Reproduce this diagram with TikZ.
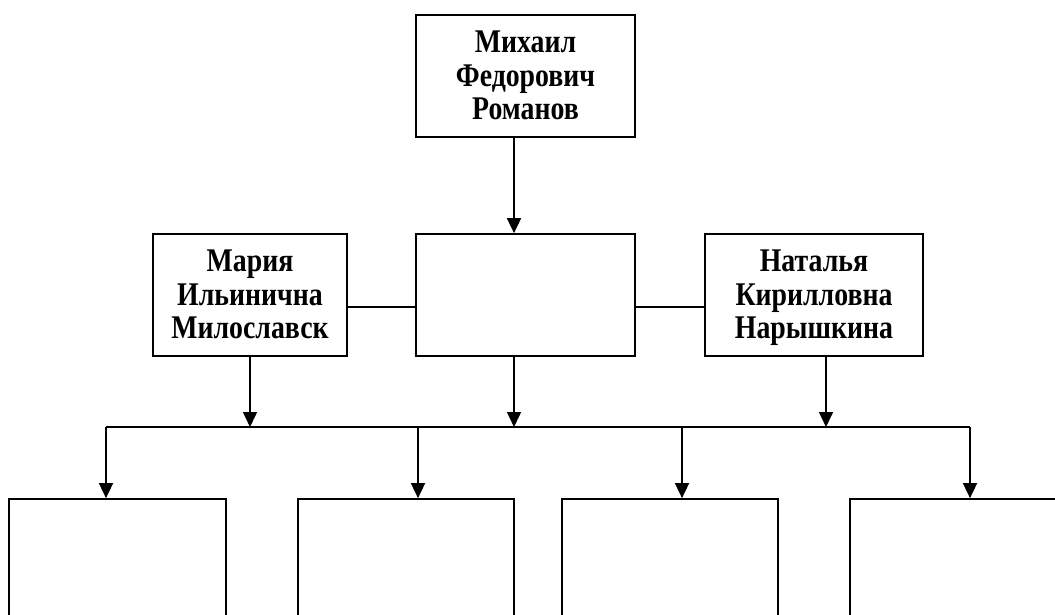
\documentclass[tikz,border=0pt]{standalone}
\usepackage{graphicx}
\usepackage{fontspec}
\setmainfont{Liberation Serif}
\usetikzlibrary{arrows.meta}
\newcommand{\boxtxt}[1]{\raisebox{-3.5pt}[\height][\depth]{\scalebox{1}[1.19]{\fontsize{27.8}{28.3}\selectfont\bfseries\begin{tabular}{@{}c@{}}#1\end{tabular}}}}
\begin{document}
\begin{tikzpicture}[x=1pt,y=-1pt,
  box/.style={draw,line width=1.7pt,rectangle,inner sep=0pt,align=center},
  conn/.style={line width=1.6pt},
  arr/.style={conn,-{Triangle[length=15pt,width=14pt]}}]
\useasboundingbox (0,0) rectangle (1055,615);
\clip (0,0) rectangle (1055,615);
% nodes
\node[box,minimum width=219pt,minimum height=122pt] (top) at (525.5,76) {\boxtxt{Михаил\\Федорович\\Романов}};
\node[box,minimum width=219pt,minimum height=122pt] (mid) at (525.5,295) {};
\node[box,minimum width=194pt,minimum height=122pt] (maria) at (250,295) {\boxtxt{Мария\\Ильинична\\Милославск}};
\node[box,minimum width=218pt,minimum height=122pt] (nat) at (814,295) {\boxtxt{Наталья\\Кирилловна\\Нарышкина}};
\node[box,minimum width=217pt,minimum height=150pt] (c1) at (117.5,574) {};
\node[box,minimum width=216pt,minimum height=150pt] (c2) at (406,574) {};
\node[box,minimum width=216pt,minimum height=150pt] (c3) at (670,574) {};
\node[box,minimum width=217pt,minimum height=150pt] (c4) at (958.5,574) {};
% bus coordinates
\coordinate (bl) at (106,427);
\coordinate (br) at (970,427);
\coordinate (ba) at (250,427);
\coordinate (bm) at (514,427);
\coordinate (bn) at (826,427);
\coordinate (d2) at (418,427);
\coordinate (d3) at (682,427);
% connectors
\draw[arr] ([xshift=-11.5pt]top.south) -- ([xshift=-11.5pt]mid.north);
\draw[conn] ([yshift=-12pt]maria.east) -- ([yshift=-12pt]mid.west);
\draw[conn] ([yshift=-12pt]mid.east) -- ([yshift=-12pt]nat.west);
\draw[arr] (maria.south) -- (ba);
\draw[arr] ([xshift=-11.5pt]mid.south) -- (bm);
\draw[arr] ([xshift=12pt]nat.south) -- (bn);
\draw[conn] (bl) -- (br);
\draw[arr] (bl) -- (bl |- c1.north);
\draw[arr] (d2) -- (d2 |- c2.north);
\draw[arr] (d3) -- (d3 |- c3.north);
\draw[arr] (br) -- (br |- c4.north);
\end{tikzpicture}
\end{document}
